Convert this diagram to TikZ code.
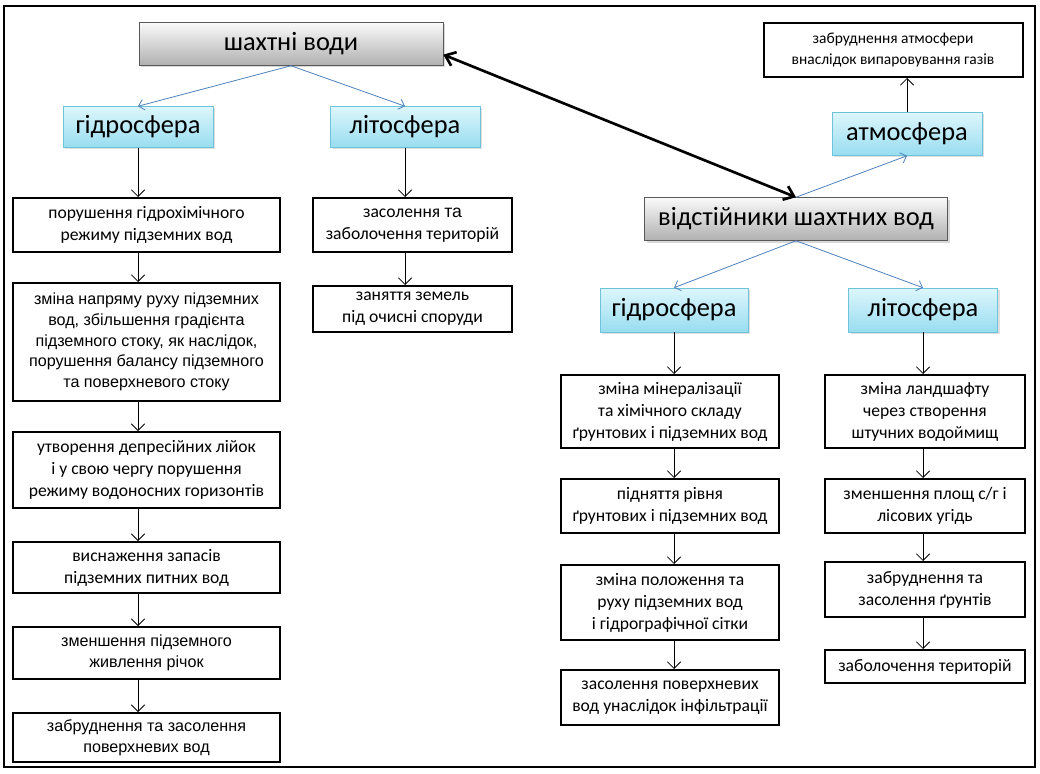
\documentclass[tikz,border=0pt]{standalone}
\usepackage{fontspec}
\setmainfont{Carlito}
\newfontfamily\arialfont{Liberation Sans}
\usetikzlibrary{shadows,arrows.meta}
\definecolor{branchblue}{HTML}{4F81BD}
\definecolor{spheretop}{HTML}{DDF6FC}
\definecolor{spherebot}{HTML}{98DDF0}
\definecolor{sphereline}{HTML}{6CC3DA}

\begin{document}
\begin{tikzpicture}[x=0.75pt,y=-0.75pt]
   \tikzstyle{every node}=[align=center, inner sep=0pt, font=\fontsize{13.2}{16.5}\selectfont]
   \tikzstyle{source}=[draw=black!65, top color=gray!4, bottom color=gray!62, drop shadow={opacity=0.3, shadow xshift=1.5pt, shadow yshift=-1.5pt}, font=\fontsize{19.8}{23}\selectfont]
   \tikzstyle{sphere}=[draw=sphereline, top color=spheretop, bottom color=spherebot, drop shadow={opacity=0.25, shadow xshift=1.5pt, shadow yshift=-1.5pt}, font=\fontsize{19.8}{23}\selectfont]
   \tikzstyle{effect}=[draw, line width=1.5pt, fill=white]
   \tikzstyle{arialtext}=[font=\arialfont\fontsize{12.1}{15.5}\selectfont]
   \tikzstyle{flow}=[-{Straight Barb[length=5pt,width=10pt]}, black, semithick]
   \tikzstyle{branch}=[-{Straight Barb[length=4pt,width=8pt]}, branchblue, semithick]
   \tikzstyle{link}=[{Straight Barb[length=7pt,width=11pt]}-{Straight Barb[length=7pt,width=11pt]}, black, line width=2pt]

\useasboundingbox (0,0) rectangle (1040,774);
\draw[line width=2pt] (4,6) rectangle (1035,767);

\node[source, minimum width=228pt, minimum height=32.25pt] (mine) at (291,44) {шахтні води};
\node[sphere, minimum width=112.5pt, minimum height=30.75pt] (hydroL) at (138,127) {гідросфера};
\node[sphere, minimum width=112.5pt, minimum height=30.75pt] (lithoL) at (405,127) {літосфера};
\node[effect, minimum width=194.25pt, minimum height=40.5pt, font=\fontsize{11.6}{16}\selectfont] (pollAir) at (893,50) {забруднення атмосфери\\внаслідок випаровування газів};
\node[sphere, minimum width=112.5pt, minimum height=32.25pt] (atmo) at (907,134) {атмосфера};
\node[source, minimum width=227.25pt, minimum height=32.25pt] (sett) at (796,219) {відстійники шахтних вод};
\node[sphere, minimum width=111pt, minimum height=33pt] (hydroR) at (674,310) {гідросфера};
\node[sphere, minimum width=111.75pt, minimum height=33pt] (lithoR) at (923,310) {літосфера};

\node[effect, minimum width=200.25pt, minimum height=40.5pt] (g1) at (146.5,225) {порушення гідрохімічного\\режиму підземних вод};
\node[effect, arialtext, minimum width=200.25pt, minimum height=88.5pt] (g2) at (146.5,342) {зміна напряму руху підземних\\вод, збільшення градієнта\\підземного стоку, як наслідок,\\порушення балансу підземного\\та поверхневого стоку};
\node[effect, minimum width=200.25pt, minimum height=57pt] (g3) at (146.5,470) {утворення депресійних лійок\\і у свою чергу порушення\\режиму водоносних горизонтів};
\node[effect, minimum width=200.25pt, minimum height=38.25pt] (g4) at (146.5,567.5) {виснаження запасів\\підземних питних вод};
\node[effect, arialtext, minimum width=200.25pt, minimum height=39pt] (g5) at (146.5,653) {зменшення підземного\\живлення річок};
\node[effect, arialtext, minimum width=200.25pt, minimum height=36.75pt] (g6) at (146.5,737.5) {забруднення та засолення\\поверхневих вод};

\node[effect, minimum width=149.25pt, minimum height=40.5pt] (l1) at (412.5,225) {засолення {\arialfont та}\\заболочення територій};
\node[effect, minimum width=149.25pt, minimum height=34.5pt] (l2) at (412.5,309) {заняття земель\\під очисні споруди};

\node[effect, minimum width=163.5pt, minimum height=54.75pt] (rg1) at (670,411.5) {зміна мінералізації\\та хімічного складу\\ґрунтових і підземних вод};
\node[effect, minimum width=163.5pt, minimum height=40.5pt] (rg2) at (670,506) {підняття рівня\\ґрунтових і підземних вод};
\node[effect, minimum width=163.5pt, minimum height=56.25pt] (rg3) at (670,602.5) {зміна положення та\\руху підземних вод\\і гідрографічної сітки};
\node[effect, minimum width=163.5pt, minimum height=41.25pt] (rg4) at (670,697.5) {засолення поверхневих\\вод унаслідок інфільтрації};

\node[effect, minimum width=150pt, minimum height=54.75pt] (rl1) at (925,411.5) {зміна ландшафту\\через створення\\штучних водоймищ};
\node[effect, minimum width=150pt, minimum height=40.5pt] (rl2) at (925,506) {зменшення площ с/г і\\лісових угідь};
\node[effect, minimum width=150pt, minimum height=41.25pt] (rl3) at (925,589.5) {забруднення та\\засолення ґрунтів};
\node[effect, minimum width=150pt, minimum height=24.75pt] (rl4) at (925,666.5) {заболочення територій};

\draw[branch] (mine.south) -- (hydroL.north);
\draw[branch] (mine.south) -- (lithoL.north);
\draw[branch] (sett.north) -- (atmo.south);
\draw[branch] (sett.south) -- (hydroR.north);
\draw[branch] (sett.south) -- (lithoR.north);
\draw[link] (mine.-4) -- (sett.north);
\draw[flow] (atmo.north) -- (atmo.north |- pollAir.south);

\draw[flow] (hydroL.south) -- (hydroL.south |- g1.north);
\foreach \a/\b in {g1/g2, g2/g3, g3/g4, g4/g5, g5/g6}
   \draw[flow] (\a.south -| hydroL) -- (\b.north -| hydroL);
\draw[flow] (lithoL.south) -- (lithoL.south |- l1.north);
\draw[flow] (l1.south -| lithoL) -- (l2.north -| lithoL);
\draw[flow] (hydroR.south) -- (hydroR.south |- rg1.north);
\foreach \a/\b in {rg1/rg2, rg2/rg3, rg3/rg4}
   \draw[flow] (\a.south -| hydroR) -- (\b.north -| hydroR);
\draw[flow] (lithoR.south) -- (lithoR.south |- rl1.north);
\foreach \a/\b in {rl1/rl2, rl2/rl3, rl3/rl4}
   \draw[flow] (\a.south -| lithoR) -- (\b.north -| lithoR);

\end{tikzpicture}
\end{document}
